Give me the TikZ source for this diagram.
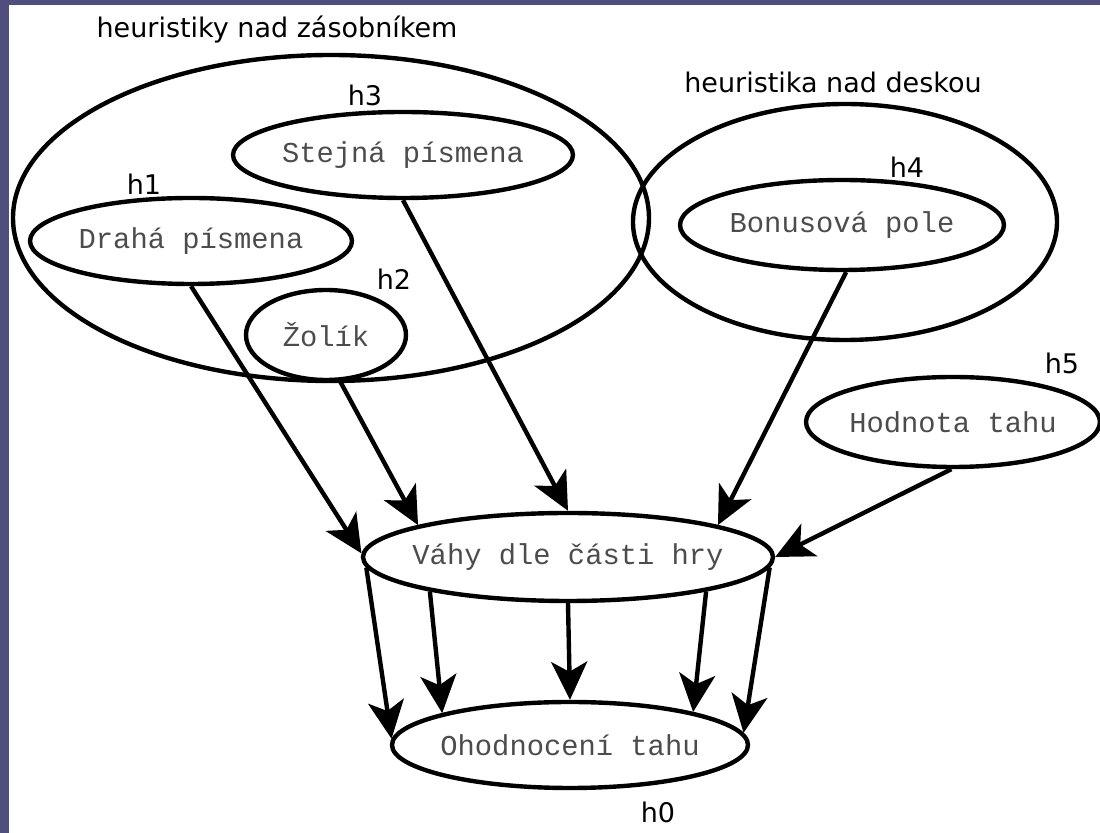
\documentclass[tikz,border=0pt]{standalone}
\usepackage{fontspec}
\setmainfont{DejaVu Sans}
\newfontfamily\codefont{Liberation Mono}
\usetikzlibrary{shapes.geometric,arrows.meta}
\definecolor{slidebg}{RGB}{80,78,124}
\newcommand{\htxt}[1]{\makebox[0pt]{#1}}
\tikzset{group/.style={ellipse, draw=black, line width=2.2pt, inner sep=0pt}}
\tikzset{hnode/.style={ellipse, draw=black, line width=2.2pt, inner sep=0pt, text=black!70, font=\codefont\fontsize{14.4}{16}\selectfont}}
\tikzset{htext/.style={inner sep=0pt, font=\fontsize{13.5}{15}\selectfont}}
\tikzset{harrow/.style={line width=2.2pt, -{Stealth[length=19pt,width=18pt,inset=5pt]}}}

\begin{document}
\begin{tikzpicture}[x=0.5pt,y=-0.5pt]
    \useasboundingbox (0,0) rectangle (1100,833);
    \fill[white] (0,0) rectangle (1100,833);
    \fill[slidebg] (0,0) rectangle (1100,5);
    \fill[slidebg] (0,0) rectangle (9,833);

    % groups
    \node[group, minimum width=318pt, minimum height=163pt] (zas) at (331,218) {};
    \node[group, minimum width=212pt, minimum height=118pt] (desk) at (845,222) {};
    \node[htext] (tzas) at (277,30) {heuristiky nad zásobníkem};
    \node[htext] (tdesk) at (833,82) {heuristika nad deskou};

    % heuristics
    \node[hnode, minimum width=170pt, minimum height=43pt] (stej) at (403,155) {\htxt{Stejná písmena}};
    \node[hnode, minimum width=161pt, minimum height=43pt] (drah) at (191,241) {\htxt{Drahá písmena}};
    \node[hnode, minimum width=80pt, minimum height=45pt] (zol) at (326,335) {\htxt{Žolík}};
    \node[hnode, minimum width=162pt, minimum height=45pt] (bon) at (842,225) {\htxt{Bonusová pole}};
    \node[hnode, minimum width=147pt, minimum height=45pt] (hod) at (953,422) {\htxt{Hodnota tahu}};
    \node[hnode, minimum width=205pt, minimum height=44pt] (vahy) at (568,557) {\htxt{Váhy dle části hry}};
    \node[hnode, minimum width=178pt, minimum height=43pt] (ohod) at (570,745) {\htxt{Ohodnocení tahu}};

    \node[htext] (l1) at (144,184) {h1};
    \node[htext] (l2) at (394,279) {h2};
    \node[htext] (l3) at (365,95) {h3};
    \node[htext] (l4) at (907,167) {h4};
    \node[htext] (l5) at (1062,363) {h5};
    \node[htext] (l0) at (658,812) {h0};

    % inputs
    \draw[harrow] (drah.south) -- (vahy.179);
    \draw[harrow] (zol.287) -- (vahy.168);
    \draw[harrow] (stej.south) -- (vahy.north);
    \draw[harrow] (bon.275) -- (vahy.12);
    \draw[harrow] (hod.268) -- (vahy.east);

    % outputs
    \draw[harrow] (vahy.183) -- (ohod.178);
    \draw[harrow] (vahy.194) -- (ohod.166);
    \draw[harrow] (vahy.south) -- (ohod.north);
    \draw[harrow] (vahy.346) -- (ohod.15);
    \draw[harrow] (vahy.357) -- (ohod.4);
\end{tikzpicture}
\end{document}
